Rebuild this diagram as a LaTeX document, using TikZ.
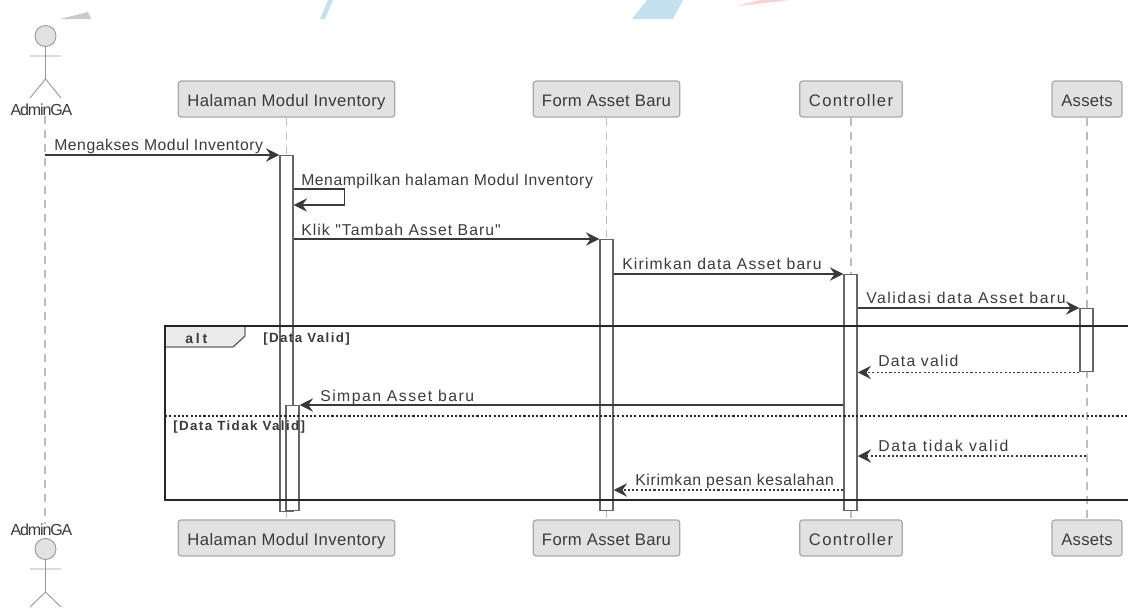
\documentclass[tikz,border=0pt]{standalone}
\usepackage{fontspec}
\setmainfont{Liberation Sans}
\newfontfamily\diagramfont{Liberation Sans}
\usetikzlibrary{arrows.meta,calc}
\definecolor{ink}{HTML}{3A3A3A}
\definecolor{boxfill}{HTML}{E2E2E2}
\definecolor{boxline}{HTML}{A8A8A8}
\definecolor{lifeline}{HTML}{BDBDBD}
\definecolor{actline}{HTML}{666666}
\definecolor{bggray}{HTML}{C9C9C9}
\definecolor{bgblue}{HTML}{C5E1EF}
\definecolor{bgred}{HTML}{FBCFCF}
\tikzset{
  x=0.75pt,y=-0.75pt,
  head/.style={draw=boxline,fill=boxfill,line width=0.9pt,rounded corners=2.2pt,minimum height=27pt,inner xsep=0pt,inner ysep=0pt,text=ink,text height=11.5pt,text depth=1pt,font=\diagramfont\fontsize{12.5pt}{14pt}\selectfont\addfontfeature{LetterSpace=#1}},
  head/.default=1.5,
  actorlabel/.style={inner sep=0pt,text=ink,font=\diagramfont\fontsize{12pt}{14pt}\selectfont\addfontfeature{LetterSpace=-7}},
  life/.style={draw=lifeline,line width=0.9pt,dash pattern=on 6pt off 4.5pt},
  stick/.style={draw=black!40,line width=0.7pt},
  act/.style={draw=actline,fill=white,line width=1.1pt,minimum width=9.75pt,inner sep=0pt,anchor=north},
  msg/.style={draw=ink,line width=0.85pt,-{Stealth[length=10pt,width=10pt,inset=3.5pt]}},
  ret/.style={msg,dash pattern=on 1.6pt off 1.6pt},
  msglabel/.style={inner sep=0pt,anchor=base west,text=ink,font=\diagramfont\fontsize{11.8pt}{14pt}\selectfont\addfontfeature{LetterSpace=#1}},
  msglabel/.default=3.5,
  guard/.style={inner sep=0pt,anchor=base west,text=ink,font=\diagramfont\bfseries\fontsize{10pt}{12pt}\selectfont\addfontfeature{LetterSpace=#1}},
  guard/.default=10.5,
  frameline/.style={draw=black!85,line width=1.4pt},
}
\begin{document}
\begin{tikzpicture}
\useasboundingbox (0,0) rectangle (1128,607);
% background fragments
\fill[bggray] (60,19) -- (88,12) -- (91,19) -- cycle;
\fill[bgblue] (320,19) -- (328,0) -- (333,0) -- (325,19) -- cycle;
\fill[bgblue] (632,19) -- (647,0) -- (683,0) -- (673,19) -- cycle;
\fill[bgred] (737,6) -- (790,0) -- (760,0) -- cycle;
% heads
\node[head=2.5,minimum width=162.5pt] (h1) at (286.5,99) {Halaman Modul Inventory};
\node[head=2,minimum width=110pt] (h2) at (606.5,99) {Form Asset Baru};
\node[head=8,minimum width=77pt] (h3) at (851,99) {Controller};
\node[head=1.5,minimum width=52.5pt] (h4) at (1087,99) {Assets};
\node[head=2.5,minimum width=162.5pt] (f1) at (286.5,538) {Halaman Modul Inventory};
\node[head=2,minimum width=110pt] (f2) at (606.5,538) {Form Asset Baru};
\node[head=8,minimum width=77pt] (f3) at (851,538) {Controller};
\node[head=1.5,minimum width=52.5pt] (f4) at (1087,538) {Assets};
\node[actorlabel] (at) at (41.5,110) {AdminGA};
\node[actorlabel] (ab) at (41.5,530) {AdminGA};
% lifelines
\draw[life] (at.south -| 45,0) -- (ab.north -| 45,0);
\draw[life] (h1) -- (f1);
\draw[life] (h2) -- (f2);
\draw[life] (h3) -- (f3);
\draw[life] (h4) -- (f4);
% actors
\draw[stick,fill=boxfill] (45.5,36) circle (10.5);
\draw[stick] (45.5,46.5) -- (45.5,79) (30,56) -- (61,56) (30,98) -- (45.5,79) -- (61,98);
\draw[stick,fill=boxfill] (45.5,549) circle (10.5);
\draw[stick] (45.5,559.5) -- (45.5,592) (30,569) -- (61,569) (30,607) -- (45.5,592) -- (61,607);
% activations
\node[act,minimum height=267pt] (b1) at (286.5,155) {};
\node[act,minimum height=78.75pt] (b1b) at (292.5,405) {};
\node[act,minimum height=203.25pt] (b2) at (606.5,239) {};
\node[act,minimum height=177pt] (b3) at (850.5,274) {};
\node[act,minimum height=47.25pt] (b4) at (1086.5,308) {};
% free ends
\coordinate (actorline) at (45,155);
\coordinate (assetsline) at (1086,456);
\coordinate (selfa) at ($(b1.north east)+(0,34)$);
\coordinate (selfb) at ($(b1.north east)+(51,34)$);
\coordinate (selfc) at ($(b1.north east)+(51,50)$);
\coordinate (selfd) at ($(b1.north east)+(0,50)$);
% messages
\draw[msg] (actorline) -- (b1.north west);
\draw[ink,line width=0.85pt] (selfa) -- (selfb) -- (selfc);
\draw[msg] (selfc) -- (selfd);
\draw[msg] (b1.east |- b2.north) -- (b2.north west);
\draw[msg] (b2.east |- b3.north) -- (b3.north west);
\draw[msg] (b3.east |- b4.north) -- (b4.north west);
\draw[ret] (b4.south west) -- (b3.east |- b4.south);
\draw[msg] (b3.west |- b1b.north) -- (b1b.north east);
\draw[ret] (assetsline) -- (assetsline -| b3.east);
\coordinate (pesan) at (b3.west |- 0,490);
\draw[ret] (pesan) -- (pesan -| b2.east);
\node[msglabel] (m1) at (54,150) {Mengakses Modul Inventory};
\node[msglabel] (m2) at (301,185) {Menampilkan halaman Modul Inventory};
\node[msglabel=6.8] (m3) at (301,235) {Klik "Tambah Asset Baru"};
\node[msglabel=7.5] (m4) at (622,269) {Kirimkan data Asset baru};
\node[msglabel=9.8] (m5) at (866,303) {Validasi data Asset baru};
\node[msglabel=8] (m6) at (878,366) {Data valid};
\node[msglabel=9.5] (m7) at (320,401) {Simpan Asset baru};
\node[msglabel=11] (m8) at (878,451) {Data tidak valid};
\node[msglabel=4.3] (m9) at (635,485) {Kirimkan pesan kesalahan};
% alt frame
\draw[draw=black!60,fill=boxfill!70!white,line width=1pt] (165,326) -- (245,326) -- (245,336) -- (233,347) -- (165,347) -- cycle;
\draw[frameline] (1128,326) -- (165,326) -- (165,500) -- (1128,500);
\node[guard=20,font=\diagramfont\bfseries\fontsize{10.5pt}{12pt}\selectfont\addfontfeature{LetterSpace=20}] (alt) at (185,343) {alt};
\node[guard] (g1) at (263,342) {[Data Valid]};
\draw[draw=black!85,line width=0.9pt,dash pattern=on 1.6pt off 1.6pt] (165,416) -- (1128,416);
\node[guard] (g2) at (173,430) {[Data Tidak Valid]};
\end{tikzpicture}
\end{document}
